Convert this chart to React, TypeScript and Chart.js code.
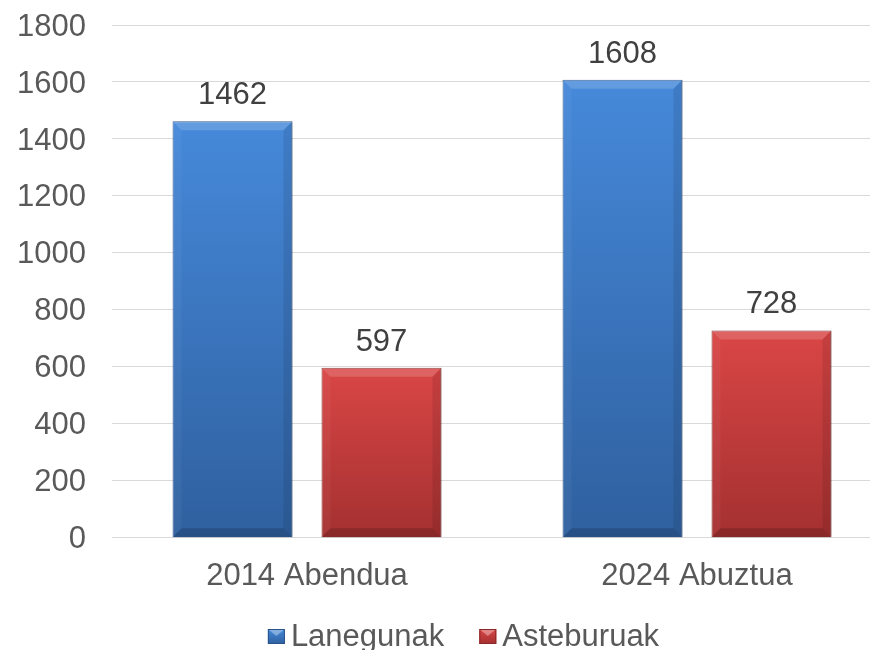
import React, { useEffect, useRef } from "react";
import { Chart, registerables } from "chart.js";

Chart.register(...registerables);

const categories = ["2014 Abendua", "2024 Abuztua"];
const seriesNames = ["Lanegunak", "Asteburuak"];
const lanegunak = [1462, 1608];
const asteburuak = [597, 728];
const yMin = 0;
const yMax = 1800;
const yStep = 200;

const FONT = "'Liberation Sans', Arial, Helvetica, sans-serif";
const palette = [
  { top: "#4689DA", bottom: "#2F609F", border: "#27528A" },
  { top: "#DA4646", bottom: "#A43030", border: "#8A2626" },
];

function fillGradient(ctx: CanvasRenderingContext2D, top: number, bottom: number, c: { top: string; bottom: string }) {
  if (!isFinite(top) || !isFinite(bottom) || top === bottom) return c.top;
  const g = ctx.createLinearGradient(0, top, 0, bottom);
  g.addColorStop(0, c.top);
  g.addColorStop(1, c.bottom);
  return g;
}

const decorPlugin = {
  id: "decor",
  beforeDatasetsDraw(chart: any) {
    const ctx = chart.ctx;
    ctx.save();
    ctx.shadowColor = "rgba(0,0,0,0.28)";
    ctx.shadowBlur = 3;
    ctx.shadowOffsetX = 2;
    ctx.shadowOffsetY = 1;
  },
  afterDatasetsDraw(chart: any) {
    const ctx: CanvasRenderingContext2D = chart.ctx;
    ctx.restore();
    chart.data.datasets.forEach((ds: any, di: number) => {
      const meta = chart.getDatasetMeta(di);
      meta.data.forEach((el: any, i: number) => {
        const L = el.x - el.width / 2;
        const R = el.x + el.width / 2;
        const T = el.y;
        const B = el.base;
        const b = 9;
        ctx.save();
        ctx.fillStyle = "rgba(255,255,255,0.16)";
        ctx.beginPath();
        ctx.moveTo(L, T); ctx.lineTo(R, T); ctx.lineTo(R - b, T + b); ctx.lineTo(L + b, T + b); ctx.closePath(); ctx.fill();
        ctx.fillStyle = "rgba(255,255,255,0.04)";
        ctx.beginPath();
        ctx.moveTo(L, T); ctx.lineTo(L + b, T + b); ctx.lineTo(L + b, B - b); ctx.lineTo(L, B); ctx.closePath(); ctx.fill();
        ctx.fillStyle = "rgba(0,0,0,0.09)";
        ctx.beginPath();
        ctx.moveTo(R, T); ctx.lineTo(R - b, T + b); ctx.lineTo(R - b, B - b); ctx.lineTo(R, B); ctx.closePath(); ctx.fill();
        ctx.fillStyle = "rgba(0,0,0,0.16)";
        ctx.beginPath();
        ctx.moveTo(L, B); ctx.lineTo(R, B); ctx.lineTo(R - b, B - b); ctx.lineTo(L + b, B - b); ctx.closePath(); ctx.fill();
        ctx.fillStyle = "#404040";
        ctx.font = `31px ${FONT}`;
        ctx.textAlign = "center";
        ctx.textBaseline = "alphabetic";
        ctx.fillText(String(ds.data[i]), el.x, T - 17);
        ctx.restore();
      });
    });
  },
  afterDraw(chart: any) {
    const ctx: CanvasRenderingContext2D = chart.ctx;
    ctx.save();
    ctx.font = `31px ${FONT}`;
    const boxW = 17, boxH = 15, gap = 6, itemGap = 35;
    const widths = seriesNames.map((n) => boxW + gap + ctx.measureText(n).width);
    const total = widths.reduce((a, w) => a + w, 0) + itemGap * (seriesNames.length - 1);
    let x = 463.5 - total / 2;
    const baseline = 646;
    seriesNames.forEach((n, i) => {
      const c = palette[i];
      const by = 629;
      ctx.fillStyle = fillGradient(ctx, by, by + boxH, c);
      ctx.fillRect(x, by, boxW, boxH);
      ctx.fillStyle = "rgba(255,255,255,0.35)";
      ctx.beginPath();
      ctx.moveTo(x, by); ctx.lineTo(x + boxW, by); ctx.lineTo(x + boxW / 2, by + 7); ctx.closePath(); ctx.fill();
      ctx.strokeStyle = c.border;
      ctx.lineWidth = 1;
      ctx.strokeRect(x + 0.5, by + 0.5, boxW - 1, boxH - 1);
      ctx.fillStyle = "#595959";
      ctx.textAlign = "left";
      ctx.textBaseline = "alphabetic";
      ctx.fillText(n, x + boxW + gap, baseline);
      x += widths[i] + itemGap;
    });
    ctx.restore();
  },
};

export default function App() {
  const ref = useRef<HTMLCanvasElement | null>(null);
  useEffect(() => {
    if (!ref.current) return;
    const seriesData = [lanegunak, asteburuak];
    const chart = new Chart(ref.current, {
      type: "bar",
      data: {
        labels: categories,
        datasets: seriesNames.map((name, si) => ({
          label: name,
          data: seriesData[si],
          backgroundColor: (context: any) => {
            const ch = context.chart;
            const ys = ch.scales && ch.scales.y;
            if (!ys || context.raw == null || !ch.chartArea) return palette[si].top;
            const top = ys.getPixelForValue(context.raw);
            const bottom = ys.getPixelForValue(0);
            return fillGradient(ch.ctx, top, bottom, palette[si]);
          },
          borderColor: palette[si].border,
          borderWidth: 1,
          categoryPercentage: 0.764,
          barPercentage: 0.805,
        })),
      },
      options: {
        responsive: false,
        animation: false,
        devicePixelRatio: 1,
        layout: { padding: { left: 17, right: 35, top: 25, bottom: 57 } },
        plugins: {
          legend: { display: false },
          tooltip: { enabled: false },
        },
        scales: {
          x: {
            grid: { display: false, drawTicks: false },
            border: { display: false },
            ticks: { font: { size: 31, family: FONT }, color: "#595959", padding: 20 },
            afterFit: (scale: any) => { scale.height = 55.2; },
          },
          y: {
            min: yMin,
            max: yMax,
            ticks: {
              stepSize: yStep,
              font: { size: 31, family: FONT },
              color: "#595959",
              padding: 26,
              labelOffset: 2,
              callback: (v: any) => String(v),
            },
            grid: { color: "#D9D9D9", lineWidth: 1, drawTicks: false },
            border: { display: false },
            afterFit: (scale: any) => {
              scale.width = 95;
              scale.paddingTop = 0;
              scale.paddingBottom = 0;
            },
          },
        },
      },
      plugins: [decorPlugin],
    } as any);
    return () => chart.destroy();
  }, []);
  return (
    <div style={{ position: "absolute", left: 0, top: 0, width: 870, height: 650, overflow: "hidden", background: "#fff" }}>
      <canvas ref={ref} width={927} height={650} style={{ display: "block" }} />
    </div>
  );
}
